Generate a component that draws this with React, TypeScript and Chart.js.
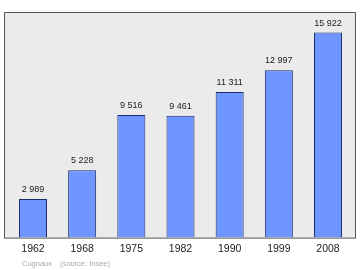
import React, { useEffect, useRef } from "react";
import { Chart, registerables } from "chart.js";

Chart.register(...registerables);

const years = ["1962", "1968", "1975", "1982", "1990", "1999", "2008"];
const population = [2989, 5228, 9516, 9461, 11311, 12997, 15922];
const footerName = "Cugnaux";
const footerSource = "(source: Insee)";

const fmt = (v: number) => String(v).replace(/\B(?=(\d{3})+(?!\d))/g, " ");

const FONT = "'Liberation Sans', Arial, sans-serif";

const boxPlugin = {
  id: "boxPlugin",
  beforeDraw(chart: any) {
    const { ctx, chartArea } = chart;
    const left = 4.5;
    const right = 355.5;
    const top = chartArea.top + 0.5;
    const bottom = chartArea.bottom + 0.5;
    ctx.save();
    ctx.fillStyle = "#ebebeb";
    ctx.fillRect(left, top, right - left, bottom - top);
    ctx.strokeStyle = "#555555";
    ctx.lineWidth = 1;
    ctx.strokeRect(left, top, right - left, bottom - top);
    ctx.restore();
  },
  afterDatasetsDraw(chart: any) {
    const { ctx } = chart;
    const meta = chart.getDatasetMeta(0);
    ctx.save();
    ctx.fillStyle = "#222222";
    ctx.font = `9px ${FONT}`;
    ctx.textAlign = "center";
    ctx.textBaseline = "alphabetic";
    meta.data.forEach((bar: any, i: number) => {
      ctx.fillText(fmt(population[i]), bar.x, bar.y - 7);
    });
    ctx.fillStyle = "#aaaaaa";
    ctx.font = `7.5px ${FONT}`;
    ctx.textAlign = "left";
    ctx.fillText(footerName, 22, 266);
    ctx.fillText(footerSource, 60, 266);
    ctx.restore();
  },
};

export default function App() {
  const ref = useRef<HTMLCanvasElement | null>(null);

  useEffect(() => {
    if (!ref.current) return;
    const chart = new Chart(ref.current, {
      type: "bar",
      data: {
        labels: years,
        datasets: [
          {
            data: population,
            backgroundColor: "#6f96ff",
            borderColor: "#1c2a6e",
            borderWidth: 1,
            categoryPercentage: 1,
            barPercentage: 0.57,
          },
        ],
      },
      options: {
        animation: false,
        responsive: false,
        maintainAspectRatio: false,
        devicePixelRatio: 1,
        layout: { padding: { left: 8.4, right: 7.4, top: 12, bottom: 9.8 } },
        plugins: {
          legend: { display: false },
          tooltip: { enabled: false },
        },
        scales: {
          x: {
            grid: { display: false, drawTicks: false },
            border: { display: false },
            ticks: {
              color: "#222222",
              font: { family: FONT, size: 10.5 },
              padding: 5,
            },
          },
          y: {
            display: false,
            min: 0,
            max: 17514,
          },
        },
      },
      plugins: [boxPlugin],
    });
    return () => chart.destroy();
  }, []);

  return (
    <div style={{ position: "fixed", left: 0, top: 0, width: 360, height: 270, background: "#ffffff" }}>
      <canvas ref={ref} width={360} height={270} style={{ width: 360, height: 270 }} />
    </div>
  );
}
